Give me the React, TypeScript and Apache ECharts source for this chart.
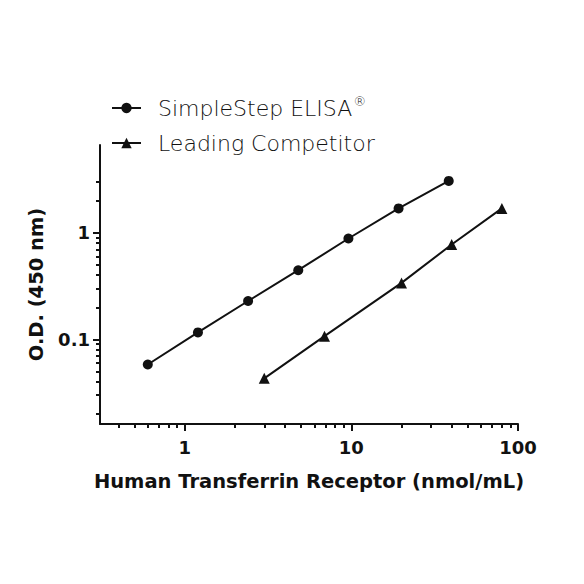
import { useEffect, useRef } from "react";
import * as echarts from "echarts";

const INK = "#111111";
const FONT = "DejaVu Sans";

// SimpleStep ELISA (circles)
const simpleX = [0.6, 1.2, 2.4, 4.8, 9.6, 19.2, 38.4];
const simpleY = [0.058, 0.116, 0.229, 0.446, 0.886, 1.7, 3.08];
// Leading Competitor (triangles)
const compX = [3, 6.9, 20, 40, 80];
const compY = [0.043, 0.107, 0.339, 0.778, 1.7];

const xMajor = [1, 10, 100];
const xMinor = [0.4, 0.5, 0.6, 0.7, 0.8, 0.9, 2, 3, 4, 5, 6, 7, 8, 9, 20, 30, 40, 50, 60, 70, 80, 90];
const yMajor = [0.1, 1];
const yMinor = [0.02, 0.03, 0.04, 0.05, 0.06, 0.07, 0.08, 0.09, 0.2, 0.3, 0.4, 0.5, 0.6, 0.7, 0.8, 0.9, 2, 3];

const X_MIN = 0.31;
const X_MAX = 100;
const Y_MIN = 0.016;
const Y_MAX = 6.7;

export default function App() {
  const ref = useRef<HTMLDivElement>(null);

  useEffect(() => {
    if (!ref.current) return;
    const chart = echarts.init(ref.current, null, { renderer: "svg" });

    const axisLine = { show: true, lineStyle: { color: INK, width: 2 } };
    const tickLabel = { color: INK, fontFamily: FONT, fontWeight: "bold" as const, fontSize: 18 };

    chart.setOption({
      animation: false,
      backgroundColor: "#FFFFFF",
      textStyle: { fontFamily: FONT },
      grid: { left: 100, right: 66, top: 145, bottom: 160, outerBoundsMode: "none" },
      legend: {
        orient: "vertical",
        left: 111,
        top: 95,
        padding: 0,
        itemWidth: 29,
        itemHeight: 13,
        itemGap: 9,
        data: ["SimpleStep ELISA", "Leading Competitor"],
        formatter: (name: string) => (name === "SimpleStep ELISA" ? name + "{sup|®}" : name),
        textStyle: {
          color: INK,
          fontFamily: FONT,
          fontWeight: 300,
          fontSize: 22,
          lineHeight: 26,
          padding: [0, 0, 0, 12],
          rich: {
            sup: { fontSize: 13, fontWeight: 300, color: INK, verticalAlign: "top", lineHeight: 26, padding: [0, 0, 10, 1] },
          },
        },
      },
      xAxis: [
        {
          type: "log",
          logBase: 10,
          min: X_MIN,
          max: X_MAX,
          position: "bottom",
          name: "Human Transferrin Receptor (nmol/mL)",
          nameLocation: "middle",
          nameGap: 47,
          nameTextStyle: { color: INK, fontFamily: FONT, fontWeight: "bold", fontSize: 19.5 },
          axisLine,
          axisTick: { show: true, customValues: xMajor, length: 7, lineStyle: { color: INK, width: 2 } },
          axisLabel: { ...tickLabel, customValues: xMajor, margin: 14, formatter: (v: number) => String(v) },
          splitLine: { show: false },
        },
        {
          type: "log",
          logBase: 10,
          min: X_MIN,
          max: X_MAX,
          position: "bottom",
          axisLine: { show: false },
          axisTick: { show: true, customValues: xMinor, length: 4, lineStyle: { color: INK, width: 2 } },
          axisLabel: { show: false },
          splitLine: { show: false },
        },
      ],
      yAxis: [
        {
          type: "log",
          logBase: 10,
          min: Y_MIN,
          max: Y_MAX,
          position: "left",
          name: "O.D. (450 nm)",
          nameLocation: "middle",
          nameGap: 54,
          nameTextStyle: { color: INK, fontFamily: FONT, fontWeight: "bold", fontSize: 19.5 },
          axisLine,
          axisTick: { show: true, customValues: yMajor, length: 7, lineStyle: { color: INK, width: 2 } },
          axisLabel: { ...tickLabel, customValues: yMajor, margin: 10, formatter: (v: number) => String(v) },
          splitLine: { show: false },
        },
        {
          type: "log",
          logBase: 10,
          min: Y_MIN,
          max: Y_MAX,
          position: "left",
          axisLine: { show: false },
          axisTick: { show: true, customValues: yMinor, length: 4, lineStyle: { color: INK, width: 2 } },
          axisLabel: { show: false },
          splitLine: { show: false },
        },
      ],
      series: [
        {
          name: "SimpleStep ELISA",
          type: "line",
          xAxisIndex: 0,
          yAxisIndex: 0,
          data: simpleX.map((x, i) => [x, simpleY[i]]),
          symbol: "circle",
          symbolSize: 10,
          showAllSymbol: true,
          lineStyle: { color: INK, width: 2 },
          itemStyle: { color: INK },
        },
        {
          name: "Leading Competitor",
          type: "line",
          xAxisIndex: 0,
          yAxisIndex: 0,
          data: compX.map((x, i) => [x, compY[i]]),
          symbol: "triangle",
          symbolSize: 11,
          showAllSymbol: true,
          lineStyle: { color: INK, width: 2 },
          itemStyle: { color: INK },
        },
      ],
    });

    return () => chart.dispose();
  }, []);

  return (
    <div
      ref={ref}
      style={{ position: "fixed", left: 0, top: 0, width: 584, height: 584, background: "#FFFFFF" }}
    />
  );
}
